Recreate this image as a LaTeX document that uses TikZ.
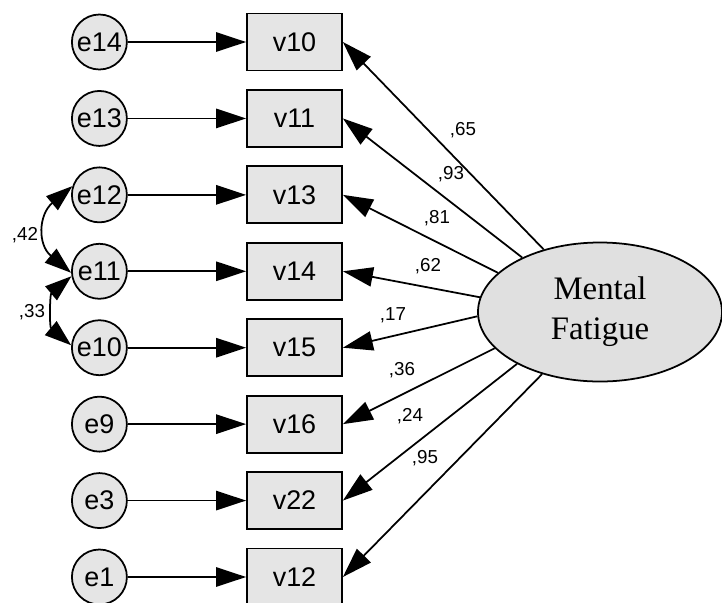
\documentclass[tikz,border=0pt]{standalone}
\usepackage{fontspec}
\setmainfont{Liberation Serif}
\setsansfont{Liberation Sans}
\usetikzlibrary{arrows.meta,positioning,shapes.geometric}
\tikzset{
  obs/.style={draw,line width=1.5pt,fill=black!10,minimum width=2.85cm,
    minimum height=1.71cm,inner sep=0pt,font=\sffamily\fontsize{23}{23}\selectfont},
  err/.style={draw,circle,line width=1.5pt,fill=black!10,minimum size=1.65cm,
    inner sep=0pt,font=\sffamily\fontsize{23}{23}\selectfont},
  lat/.style={draw,ellipse,line width=1.5pt,fill=black!12,minimum width=7.32cm,
    minimum height=4.17cm,inner sep=0pt,align=center,
    font=\fontsize{28}{34}\selectfont},
  load/.style={-{Triangle[length=9mm,width=5.8mm]},line width=1.5pt},
  cov/.style={{Triangle[length=8mm,width=5.4mm]}-{Triangle[length=8mm,width=5.4mm]},
    line width=1.5pt},
  coef/.style={font=\sffamily\fontsize{16}{16}\selectfont,inner sep=0pt},
}
\begin{document}
\begin{tikzpicture}[x=0.03cm,y=-0.03cm]
  \useasboundingbox (0,0) rectangle (722,602);

  % observed variables
  \node[obs] (v10) at (294.5,42) {v10};
  \node[obs,below=0.53cm of v10] (v11) {v11};
  \node[obs,below=0.53cm of v11] (v13) {v13};
  \node[obs,below=0.53cm of v13] (v14) {v14};
  \node[obs,below=0.53cm of v14] (v15) {v15};
  \node[obs,below=0.53cm of v15] (v16) {v16};
  \node[obs,below=0.53cm of v16] (v22) {v22};
  \node[obs,below=0.53cm of v22] (v12) {v12};

  % errors
  \node[err,left=3.55cm of v10] (e14) {e14};
  \node[err,left=3.55cm of v11] (e13) {e13};
  \node[err,left=3.55cm of v13] (e12) {e12};
  \node[err,left=3.55cm of v14] (e11) {e11};
  \node[err,left=3.55cm of v15] (e10) {e10};
  \node[err,left=3.55cm of v16] (e9) {e9};
  \node[err,left=3.55cm of v22] (e3) {e3};
  \node[err,left=3.55cm of v12] (e1) {e1};

  % latent factor
  \node[lat] (fat) at (600,312) {Mental\\Fatigue};

  \draw[load] (e14) -- (v10);
  \draw[load] (e13) -- (v11);
  \draw[load] (e12) -- (v13);
  \draw[load] (e11) -- (v14);
  \draw[load] (e10) -- (v15);
  \draw[load] (e9) -- (v16);
  \draw[load] (e3) -- (v22);
  \draw[load] (e1) -- (v12);

  \draw[load] (fat.132) -- (v10.east);
  \draw[load] (fat.145) -- (v11.east);
  \draw[load] (fat.159) -- (v13.east);
  \draw[load] (fat.173) -- (v14.east);
  \draw[load] (fat.182) -- (v15.east);
  \draw[load] (fat.199) -- (v16.east);
  \draw[load] (fat.212) -- (v22.east);
  \draw[load] (fat.227) -- (v12.east);

  % correlated errors
  \draw[cov] (e12.162) to[out=220,in=140,looseness=1.3] (e11.183);
  \draw[cov] (e11.190) to[out=220,in=140,looseness=1.05] (e10.175);

  \node[coef] (c65) at (463,130) {,65};
  \node[coef] (c93) at (451,174) {,93};
  \node[coef] (c81) at (437,218) {,81};
  \node[coef] (c62) at (428,266) {,62};
  \node[coef] (c17) at (393,315) {,17};
  \node[coef] (c36) at (402,370) {,36};
  \node[coef] (c24) at (410,416) {,24};
  \node[coef] (c95) at (425,458) {,95};
  \node[coef] (c42) at (25,235) {,42};
  \node[coef] (c33) at (32,312) {,33};
\end{tikzpicture}
\end{document}
